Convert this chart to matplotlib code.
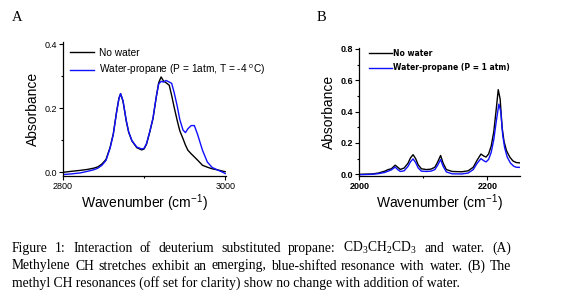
import matplotlib
matplotlib.use("Agg")
import matplotlib.pyplot as plt
from matplotlib.ticker import MultipleLocator

plt.rcParams["mathtext.fontset"] = "custom"
plt.rcParams["mathtext.rm"] = "Liberation Serif"
plt.rcParams["mathtext.sf"] = "Liberation Sans"

# Panel A: methylene CH stretch region
wn_a = [2800, 2810, 2821, 2830, 2838, 2843, 2848, 2853, 2858, 2862, 2866, 2869, 2871,
        2874, 2878, 2881, 2885, 2891, 2897, 2900, 2903, 2907, 2911, 2915, 2918, 2921,
        2924, 2927, 2931, 2934, 2937, 2941, 2944, 2948, 2951, 2954, 2958, 2962, 2966,
        2972, 2978, 2984, 2990, 2998, 3000]
a_dry = [0.000, 0.003, 0.006, 0.009, 0.013, 0.017, 0.026, 0.040, 0.077, 0.120, 0.188, 0.232,
         0.245, 0.222, 0.160, 0.125, 0.098, 0.077, 0.070, 0.073, 0.088, 0.126, 0.168, 0.235,
         0.280, 0.298, 0.285, 0.280, 0.272, 0.240, 0.204, 0.160, 0.130, 0.105, 0.085, 0.069,
         0.058, 0.048, 0.038, 0.022, 0.016, 0.011, 0.008, 0.003, 0.002]
a_wet = [-0.007, -0.005, -0.002, 0.003, 0.008, 0.013, 0.022, 0.037, 0.075, 0.118, 0.186, 0.230,
         0.246, 0.224, 0.162, 0.126, 0.099, 0.079, 0.073, 0.075, 0.090, 0.127, 0.170, 0.236,
         0.276, 0.284, 0.282, 0.287, 0.282, 0.278, 0.250, 0.205, 0.165, 0.132, 0.124, 0.136,
         0.146, 0.146, 0.118, 0.069, 0.032, 0.015, 0.008, -0.001, -0.004]

# Panel B: methyl CH region (offset for clarity)
wn_b = [2000, 2020, 2030, 2040, 2045, 2050, 2056, 2060, 2064, 2070, 2076, 2080, 2084, 2088,
        2092, 2097, 2105, 2112, 2118, 2122, 2127, 2131, 2136, 2145, 2160, 2170, 2178, 2184,
        2190, 2195, 2198, 2202, 2206, 2210, 2214, 2217, 2220, 2223, 2226, 2230, 2235, 2240,
        2245, 2250]
b_dry = [0.000, 0.002, 0.008, 0.020, 0.030, 0.035, 0.058, 0.045, 0.031, 0.040, 0.070, 0.105,
         0.125, 0.100, 0.060, 0.035, 0.030, 0.033, 0.045, 0.075, 0.120, 0.070, 0.030, 0.018,
         0.016, 0.022, 0.045, 0.090, 0.129, 0.115, 0.110, 0.130, 0.180, 0.270, 0.420, 0.540,
         0.480, 0.300, 0.210, 0.150, 0.110, 0.085, 0.075, 0.073]
wn_b2 = [2000, 2020, 2030, 2040, 2045, 2050, 2056, 2060, 2064, 2070, 2076, 2080, 2084, 2088,
         2092, 2097, 2105, 2112, 2118, 2122, 2127, 2131, 2136, 2145, 2160, 2170, 2178, 2184,
         2190, 2195, 2198, 2202, 2206, 2210, 2214, 2218, 2221, 2224, 2227, 2231, 2236, 2241,
         2245, 2250]
b_wet = [-0.003, 0.000, 0.004, 0.012, 0.020, 0.028, 0.046, 0.030, 0.018, 0.022, 0.050, 0.080,
         0.098, 0.075, 0.040, 0.020, 0.018, 0.020, 0.030, 0.055, 0.094, 0.050, 0.015, 0.003,
         0.002, 0.008, 0.030, 0.070, 0.100, 0.085, 0.079, 0.095, 0.140, 0.220, 0.340, 0.448,
         0.400, 0.250, 0.170, 0.110, 0.072, 0.052, 0.045, 0.044]

caption = [
    ["Figure", "1:", "Interaction", "of", "deuterium", "substituted", "propane:",
     "CD$_3$CH$_2$CD$_3$", "and", "water.", "(A)"],
    ["Methylene", "CH", "stretches", "exhibit", "an", "emerging,", "blue-shifted",
     "resonance", "with", "water.", "(B)", "The"],
]
caption_last = "methyl CH resonances (off set for clarity) show no change with addition of water."

W, H = 565, 305
fig = plt.figure(figsize=(W / 100, H / 100), dpi=100)
blue = "#1010ff"
xlab = "Wavenumber (cm$\\mathsf{^{-1}}$)"


def style_axes(ax, bold=False):
    for s in ["top", "right"]:
        ax.spines[s].set_visible(False)
    for s in ["left", "bottom"]:
        ax.spines[s].set_linewidth(0.9)
    ax.tick_params(which="major", direction="out", length=3, width=0.8, pad=1.5,
                   labelsize=6.5)
    ax.tick_params(which="minor", direction="out", length=1.5, width=0.8)
    for lab in ax.get_xticklabels() + ax.get_yticklabels():
        lab.set_family("Liberation Sans")
        if bold:
            lab.set_fontweight("bold")


# ---- panel A ----
axA = fig.add_axes([63 / W, 1 - 176 / H, 163 / W, 134.3 / H])
axA.plot(wn_a, a_dry, color="black", lw=1.0, label="No water")
axA.plot(wn_a, a_wet, color=blue, lw=1.0,
         label="Water-propane (P = 1atm, T = -4 $\\mathsf{^{o}}$C)")
axA.set_xlim(2800, 3001)
axA.set_ylim(-0.0115, 0.408)
axA.set_xticks([2800, 3000])
axA.xaxis.set_minor_locator(MultipleLocator(100))
axA.set_yticks([0.0, 0.2, 0.4])
axA.yaxis.set_minor_locator(MultipleLocator(0.1))
axA.set_yticklabels(["0.0", "0.2", "0.4"])
style_axes(axA)
axA.set_xlabel(xlab, fontsize=10, family="Liberation Sans", labelpad=1)
axA.set_ylabel("Absorbance", fontsize=10, family="Liberation Sans", labelpad=3)
axA.legend(loc="upper left", bbox_to_anchor=(0.02, 0.985), frameon=False,
           prop={"family": "Liberation Sans", "size": 7.3}, handlelength=2.3,
           handletextpad=0.5, labelspacing=0.5, borderaxespad=0)

# ---- panel B ----
axB = fig.add_axes([359.3 / W, 1 - 176 / H, 160.7 / W, 128.3 / H])
axB.plot(wn_b, b_dry, color="black", lw=1.0, label="No water")
axB.plot(wn_b2, b_wet, color=blue, lw=1.0, label="Water-propane (P = 1 atm)")
axB.set_xlim(2000, 2251)
axB.set_ylim(-0.011, 0.808)
axB.set_xticks([2000, 2200])
axB.xaxis.set_minor_locator(MultipleLocator(100))
axB.set_yticks([0.0, 0.2, 0.4, 0.6, 0.8])
axB.yaxis.set_minor_locator(MultipleLocator(0.1))
axB.set_yticklabels(["0.0", "0.2", "0.4", "0.6", "0.8"])
style_axes(axB, bold=True)
axB.set_xlabel(xlab, fontsize=10, family="Liberation Sans", labelpad=1)
axB.set_ylabel("Absorbance", fontsize=10, family="Liberation Sans", labelpad=3)
axB.legend(loc="upper left", bbox_to_anchor=(0.04, 1.015), frameon=False,
           prop={"family": "DejaVu Sans", "size": 5.5, "weight": "bold"}, handlelength=3.1,
           handletextpad=0.1, labelspacing=0.7, borderaxespad=0)

# panel letters
fig.text(12 / W, 1 - 21 / H, "A", family="Liberation Serif", fontsize=10.5)
fig.text(317 / W, 1 - 21 / H, "B", family="Liberation Serif", fontsize=10.5)

# justified caption lines
fig.canvas.draw()
renderer = fig.canvas.get_renderer()
x0, x1 = 12, 511
cap_kw = dict(family="Liberation Serif", fontsize=9.8)
baselines = [252, 269.5, 287]
for words, yb in zip(caption, baselines[:2]):
    arts = [fig.text(0, 1 - yb / H, w, va="baseline", **cap_kw) for w in words]
    widths = [a.get_window_extent(renderer).width for a in arts]
    gap = (x1 - x0 - sum(widths)) / (len(words) - 1)
    x = x0
    for a, w in zip(arts, widths):
        a.set_x(x / W)
        x += w + gap
fig.text(x0 / W, 1 - baselines[2] / H, caption_last, va="baseline", **cap_kw)

fig.savefig("out.png", dpi=100)
